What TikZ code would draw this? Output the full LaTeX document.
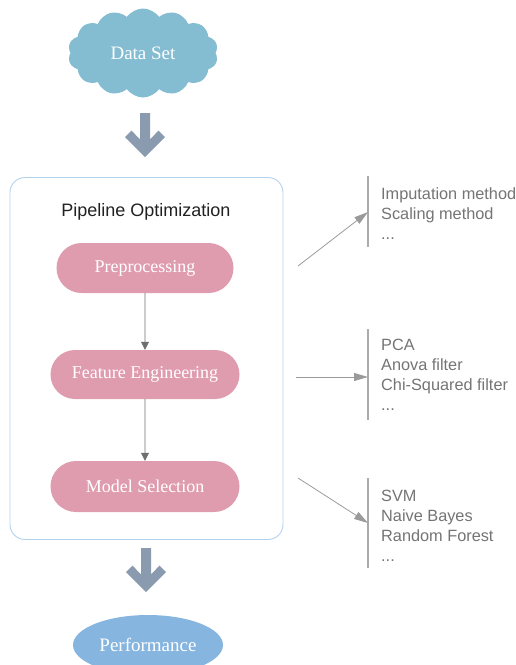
\documentclass[tikz,border=0pt]{standalone}
\usepackage{fontspec}
\setmainfont{Liberation Serif}
\setsansfont{Liberation Sans}
\usetikzlibrary{shapes.symbols,shapes.misc,shapes.geometric,arrows.meta}

\definecolor{cloudblue}{HTML}{84BCD1}
\definecolor{bigarrow}{HTML}{8A9BB0}
\definecolor{pillpink}{HTML}{E09CAF}
\definecolor{perfblue}{HTML}{86B5E0}
\definecolor{frameblue}{HTML}{B3D2EE}
\definecolor{flowgray}{HTML}{6E6E6E}
\definecolor{sidegray}{HTML}{9A9A9A}
\definecolor{bargray}{HTML}{ABABAB}
\definecolor{listgray}{HTML}{747474}

\tikzset{
  pill/.style={rounded rectangle, fill=pillpink, draw=none, text=white,
    font=\fontsize{18}{20}\selectfont, inner sep=0pt},
  flow/.style={draw=flowgray, line width=0.7pt,
    -{Triangle[length=8pt,width=8pt]}},
  side/.style={draw=sidegray, line width=0.8pt,
    -{Triangle[length=14pt,width=8pt]}},
  bar/.style={draw=bargray, line width=1.6pt},
  optlist/.style={anchor=north west, inner sep=0pt, align=left, text=listgray,
    font=\sffamily\fontsize{16.3}{20}\selectfont},
  fatarrow/.style={fill=bigarrow, draw=none},
}

\begin{document}
\begin{tikzpicture}[x=1pt,y=-1pt]
\useasboundingbox (0,0) rectangle (516,665);
\clip (0,0) rectangle (516,665);

% input data
\node[cloud, cloud puffs=14, cloud puff arc=110, cloud ignores aspect,
      minimum width=150pt, minimum height=89pt, fill=cloudblue, draw=none,
      text=white, font=\fontsize{19}{21}\selectfont, inner sep=0pt]
  (data) at (143,53) {Data Set};

% thick arrow into the pipeline
\filldraw[fatarrow] (140,113) -- (150,113) -- (150,139.3) -- (158.6,130.6)
  -- (165,137) -- (145,157) -- (125,137) -- (131.4,130.6) -- (140,139.3) -- cycle;

% pipeline frame
\node[draw=frameblue, line width=0.9pt, rounded corners=15pt,
      minimum width=273pt, minimum height=362pt, inner sep=0pt]
  (frame) at (146.5,358.5) {};
\node[font=\sffamily\fontsize{18}{20}\selectfont, text=black!87, inner sep=0pt]
  (title) at (146,212) {Pipeline Optimization};

% pipeline stages
\node[pill, minimum width=177pt, minimum height=50pt] (pre) at (145,268) {Preprocessing};
\node[pill, minimum width=189pt, minimum height=49pt] (feat) at (145,374.5) {Feature Engineering};
\node[pill, minimum width=189pt, minimum height=51pt] (model) at (145,486.5) {Model Selection};

\draw[flow] (pre) -- (feat);
\draw[flow] (feat) -- (model);

% option lists
\coordinate (b1t) at (368,176);
\coordinate (b1b) at (368,247);
\coordinate (b2t) at (368,329);
\coordinate (b2b) at (368,420);
\coordinate (b3t) at (368,478);
\coordinate (b3b) at (368,568);
\draw[bar] (b1t) -- (b1b);
\draw[bar] (b2t) -- (b2b);
\draw[bar] (b3t) -- (b3b);

\node[optlist] (l1) at (381,187.3) {Imputation method\\Scaling method\\...};
\node[optlist] (l2) at (381,338.5) {PCA\\Anova filter\\Chi-Squared filter\\...};
\node[optlist] (l3) at (381,489.5) {SVM\\Naive Bayes\\Random Forest\\...};

\coordinate (s1) at (298,266);
\coordinate (e1) at (368,212);
\coordinate (s2) at (296,377);
\coordinate (e2) at (368,377);
\coordinate (s3) at (298,478);
\coordinate (e3) at (368,523);
\draw[side] (s1) -- (e1);
\draw[side] (s2) -- (e2);
\draw[side] (s3) -- (e3);

% thick arrow out of the pipeline
\filldraw[fatarrow, shift={(1,435)}] (140,113) -- (150,113) -- (150,139.3) -- (158.6,130.6)
  -- (165,137) -- (145,157) -- (125,137) -- (131.4,130.6) -- (140,139.3) -- cycle;

% result
\node[ellipse, fill=perfblue, draw=none, minimum width=150pt, minimum height=60pt,
      text=white, font=\fontsize{19}{21}\selectfont, inner sep=0pt]
  (perf) at (148,645) {Performance};
\end{tikzpicture}
\end{document}
